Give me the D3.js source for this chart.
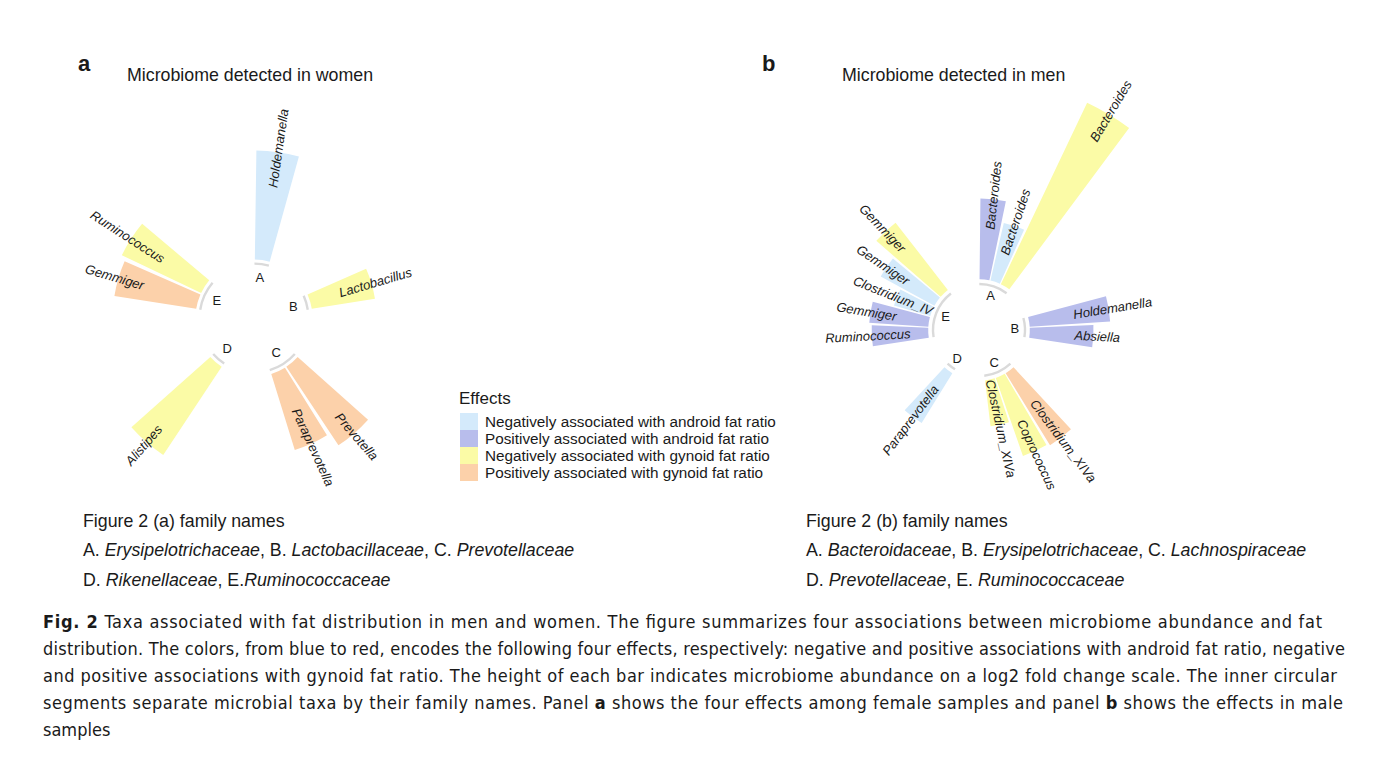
<!DOCTYPE html>
<html lang="en">
<head>
<meta charset="UTF-8">
<title>Fig. 2 circular barplots</title>
<script src="https://cdnjs.cloudflare.com/ajax/libs/d3/7.8.5/d3.min.js"></script>
<style>
    body { margin: 0; background: #fff; }
    text { font-family: "Liberation Sans", Arial, sans-serif; fill: #1a1a1a; }
    .taxon { font-style: italic; font-size: 13px; }
    .grp { font-size: 13px; }
    .caption { font-family: "DejaVu Sans Condensed", "DejaVu Sans", sans-serif; font-stretch: condensed; font-size: 18px; }
</style>
</head>
<body>
<div id="chart"></div>
<script>
// effect categories (legend order)
const effects = [
    "Negatively associated with android fat ratio",
    "Positively associated with android fat ratio",
    "Negatively associated with gynoid fat ratio",
    "Positively associated with gynoid fat ratio"
];
const effectColors = ["#d4eafb", "#b8bdec", "#fbfba6", "#fcd1aa"];

// panel a - women
const womenGroups = ["A", "B", "C", "D", "E"];
const womenTaxa   = ["Holdemanella", "Lactobacillus", "Prevotella", "Paraprevotella", "Alistipes", "Gemmiger", "Ruminococcus"];
const womenGroup  = ["A", "B", "C", "C", "D", "E", "E"];
const womenEffect = [0, 2, 3, 3, 2, 3, 2];
const womenValue  = [133, 78, 115, 97, 129, 101, 107];
const womenFamilies = ["Erysipelotrichaceae", "Lactobacillaceae", "Prevotellaceae", "Rikenellaceae", "Ruminococcaceae"];

// panel b - men
const menGroups = ["A", "B", "C", "D", "E"];
const menTaxa   = ["Bacteroides", "Bacteroides", "Bacteroides", "Holdemanella", "Absiella",
                   "Clostridium_XIVa", "Coprococcus", "Clostridium_XIVa", "Paraprevotella",
                   "Ruminococcus", "Gemmiger", "Clostridium_IV", "Gemmiger", "Gemmiger"];
const menGroup  = ["A", "A", "A", "B", "B", "C", "C", "C", "D", "E", "E", "E", "E", "E"];
const menEffect = [1, 0, 2, 1, 1, 3, 2, 2, 0, 1, 1, 0, 0, 2];
const menValue  = [124, 91, 309, 124, 98, 130, 127, 71, 90, 87, 91, 58, 94, 131];
const menFamilies = ["Bacteroidaceae", "Erysipelotrichaceae", "Lachnospiraceae", "Prevotellaceae", "Ruminococcaceae"];

const emptyBars = 3;

const svg = d3.select("#chart").append("svg")
    .attr("width", 1378)
    .attr("height", 759);

function circularBar(opt) {
    // lay bars out in slots, 3 empty slots after every group
    const bars = [];
    let slot = 0;
    const groupInfo = [];
    opt.groups.forEach(function (g) {
        const first = slot;
        opt.taxa.forEach(function (t, i) {
            if (opt.group[i] !== g) return;
            bars.push({ name: t, value: opt.value[i], effect: opt.effect[i], slot: slot });
            slot++;
        });
        groupInfo.push({ name: g, first: first, last: slot - 1 });
        slot += emptyBars;
    });
    const nSlots = slot;

    const x = d3.scaleLinear().domain([0, nSlots]).range([0, 2 * Math.PI]);
    const y = d3.scaleLinear().domain([0, 100]).range([opt.r0, opt.r0 + 100 * opt.k]);

    const g = svg.append("g").attr("transform", `translate(${opt.cx},${opt.cy})`);

    const arc = d3.arc();
    g.selectAll(".bar")
        .data(bars)
        .enter()
        .append("path")
        .attr("class", "bar")
        .attr("d", d => arc({
            innerRadius: y(0),
            outerRadius: y(d.value),
            startAngle: x(d.slot + 0.05),
            endAngle: x(d.slot + 0.95)
        }))
        .attr("fill", d => effectColors[d.effect]);

    // family baseline segments
    g.selectAll(".base")
        .data(groupInfo)
        .enter()
        .append("path")
        .attr("class", "base")
        .attr("d", d => arc({
            innerRadius: opt.arcR - 1.2,
            outerRadius: opt.arcR + 1.2,
            startAngle: x(d.first + 0.03),
            endAngle: x(d.last + 0.97)
        }))
        .attr("fill", "#dadada");

    g.selectAll(".grp")
        .data(groupInfo)
        .enter()
        .append("text")
        .attr("class", "grp")
        .attr("text-anchor", "middle")
        .attr("dominant-baseline", "central")
        .attr("x", d => opt.labelR * Math.sin(x((d.first + d.last + 1) / 2)))
        .attr("y", d => -opt.labelR * Math.cos(x((d.first + d.last + 1) / 2)))
        .text(d => d.name);

    g.selectAll(".taxon")
        .data(bars)
        .enter()
        .append("text")
        .attr("class", "taxon")
        .attr("text-anchor", "middle")
        .attr("dominant-baseline", "central")
        .attr("transform", function (d) {
            const a = x(d.slot + 0.5);
            const r = y(d.value) + 4;
            const deg = a * 180 / Math.PI;
            const rot = deg < 180 ? deg - 90 : deg - 270;
            return `translate(${r * Math.sin(a)},${-r * Math.cos(a)}) rotate(${rot})`;
        })
        .text(d => d.name);
}

circularBar({ groups: womenGroups, taxa: womenTaxa, group: womenGroup, effect: womenEffect, value: womenValue,
              cx: 254, cy: 318, r0: 58.5, k: 0.82, arcR: 54.4, labelR: 41 });
circularBar({ groups: menGroups, taxa: menTaxa, group: menGroup, effect: menEffect, value: menValue,
              cx: 979, cy: 330, r0: 50.8, k: 0.65, arcR: 46, labelR: 36 });

// panel letters and titles
svg.append("text").attr("x", 78).attr("y", 71).style("font-size", "22px").style("font-weight", "bold").text("a");
svg.append("text").attr("x", 127).attr("y", 81).style("font-size", "17.8px").text("Microbiome detected in women");
svg.append("text").attr("x", 762).attr("y", 71).style("font-size", "22px").style("font-weight", "bold").text("b");
svg.append("text").attr("x", 842).attr("y", 81).style("font-size", "17.8px").text("Microbiome detected in men");

// legend
const legend = svg.append("g").attr("transform", "translate(460,413)");
legend.append("text").attr("x", -1).attr("y", -9).style("font-size", "17px").text("Effects");
legend.selectAll("rect")
    .data(effects)
    .enter()
    .append("rect")
    .attr("x", 0)
    .attr("y", (d, i) => i * 17)
    .attr("width", 18)
    .attr("height", 17)
    .attr("fill", (d, i) => effectColors[i]);
legend.selectAll(".lab")
    .data(effects)
    .enter()
    .append("text")
    .attr("class", "lab")
    .attr("x", 25)
    .attr("y", (d, i) => i * 17 + 13.5)
    .style("font-size", "15.3px")
    .text(d => d);

// family name notes
function familyNote(x0, tag, groups, families) {
    const t = svg.append("g");
    t.append("text").attr("x", x0).attr("y", 527).style("font-size", "17.8px").text(`Figure 2 (${tag}) family names`);
    const rows = [[0, 1, 2], [3, 4]];
    rows.forEach(function (row, ri) {
        const line = t.append("text").attr("x", x0).attr("y", 556 + ri * 29.5).style("font-size", "17.8px");
        row.forEach(function (gi, j) {
            const sep = (tag === "a" && gi === 4) ? "." : ". ";
            line.append("tspan").text((j > 0 ? ", " : "") + groups[gi] + sep);
            line.append("tspan").style("font-style", "italic").text(families[gi]);
        });
    });
}
familyNote(83, "a", womenGroups, womenFamilies);
familyNote(806, "b", menGroups, menFamilies);

// caption
const captionLines = [
    [["Fig. 2", true], [" Taxa associated with fat distribution in men and women. The figure summarizes four associations between microbiome abundance and fat", false]],
    [["distribution. The colors, from blue to red, encodes the following four effects, respectively: negative and positive associations with android fat ratio, negative", false]],
    [["and positive associations with gynoid fat ratio. The height of each bar indicates microbiome abundance on a log2 fold change scale. The inner circular", false]],
    [["segments separate microbial taxa by their family names. Panel ", false], ["a", true], [" shows the four effects among female samples and panel ", false], ["b", true], [" shows the effects in male", false]],
    [["samples", false]]
];
const captionWidths = [1279, 1302, 1294, 1300, null];
captionLines.forEach(function (parts, i) {
    const line = svg.append("text")
        .attr("class", "caption")
        .attr("x", 43)
        .attr("y", 628 + i * 27);
    if (captionWidths[i]) line.attr("textLength", captionWidths[i]).attr("lengthAdjust", "spacing");
    parts.forEach(function (p) {
        line.append("tspan").style("font-weight", p[1] ? "bold" : "normal").text(p[0]);
    });
});
</script>
</body>
</html>
